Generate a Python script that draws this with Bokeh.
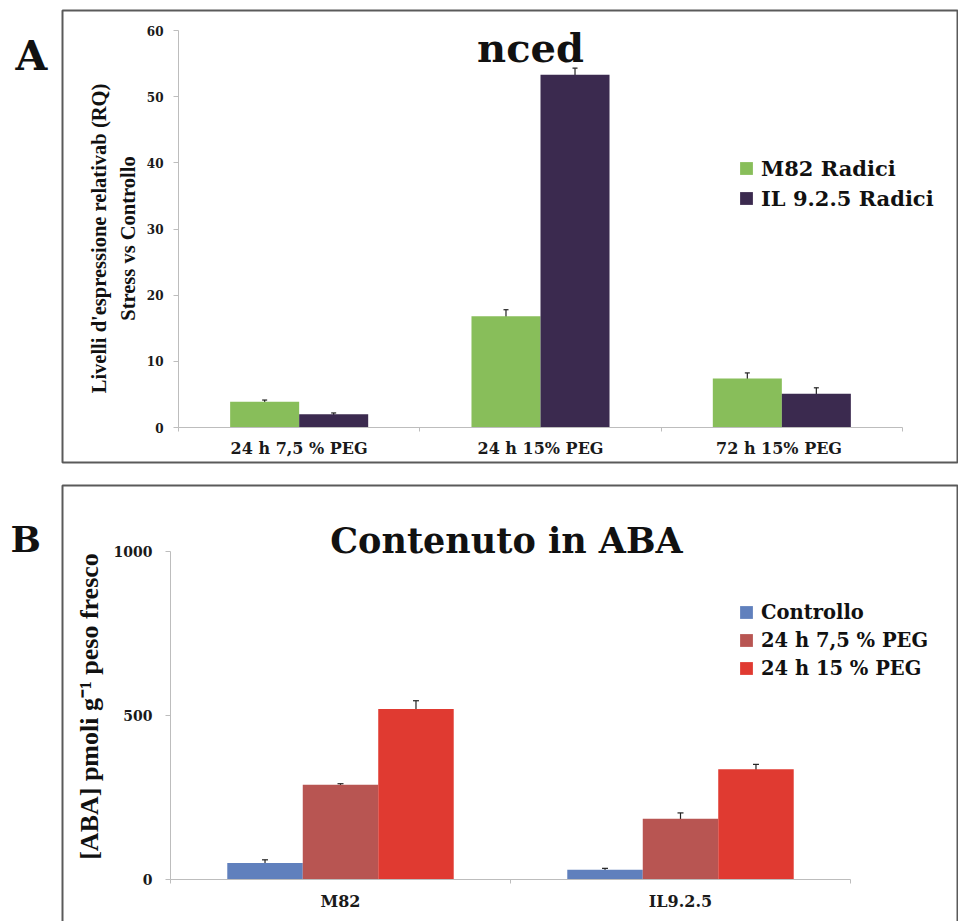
from bokeh.plotting import figure
from bokeh.models import (ColumnDataSource, Range1d, FixedTicker, Whisker, TeeHead,
                          Label, BoxAnnotation, Legend, LegendItem, LinearAxis)
from bokeh.layouts import column
from bokeh.embed import file_html
from bokeh.resources import INLINE
import math

# ---------------- data: panel A (nced) ----------------
cats_A = ["24 h 7,5 % PEG", "24 h 15% PEG", "72 h 15%  PEG"]
series_A = ["M82 Radici", "IL 9.2.5 Radici"]
m82_A = [3.9, 16.8, 7.4]
m82_err_A = [0.25, 1.0, 0.85]
il_A = [2.0, 53.3, 5.1]
il_err_A = [0.2, 1.0, 0.9]
yticks_A = [0, 10, 20, 30, 40, 50, 60]

# ---------------- data: panel B (ABA) ----------------
cats_B = ["M82", "IL9.2.5"]
series_B = ["Controllo", "24 h 7,5 % PEG", "24 h 15 % PEG"]
ctrl_B = [50, 30]
ctrl_err_B = [10, 4]
p75_B = [289, 185]
p75_err_B = [3, 18]
p15_B = [520, 336]
p15_err_B = [25, 15]
yticks_B = [0, 500, 1000]

SERIF = "DejaVu Serif"
SERIF_NARROW = "Liberation Serif"
AXIS_GRAY = "#BDBDBD"
BOX_GRAY = "#5a5a5a"
COL_GREEN = "#88BE5A"
COL_PURPLE = "#3B2A4F"
COL_BLUE = "#6080BD"
COL_BROWN = "#B85552"
COL_RED = "#E03A31"

W = 958


def ranges_for(W, H, x0_px, x1_px, nx, y0_px, y1_px, ymax):
    """Ranges such that the frame (= whole canvas) maps 0..nx to x0_px..x1_px and
    0..ymax to y0_px..y1_px (pixel rows from the top)."""
    kx = (x1_px - x0_px) / nx
    ky = (y0_px - y1_px) / ymax
    xr = Range1d(-x0_px / kx, nx + (W - x1_px) / kx)
    yr = Range1d(-(H - y0_px) / ky, ymax + y1_px / ky)
    return xr, yr


def make_fig(H, xr, yr):
    p = figure(width=W, height=H, output_backend="svg", toolbar_location=None,
               x_range=xr, y_range=yr, x_axis_type=None, y_axis_type=None,
               min_border_left=0, min_border_right=0, min_border_top=0, min_border_bottom=0)
    p.background_fill_color = "white"
    p.border_fill_color = "white"
    p.outline_line_color = None
    p.xgrid.visible = False
    p.ygrid.visible = False
    return p


def add_axes(p, n, centers, cats, yticks, ymax, xfont, yfont, xstand, ystand):
    xa = LinearAxis(fixed_location=0, bounds=(0, n),
                    ticker=FixedTicker(ticks=centers, minor_ticks=list(range(n + 1))))
    xa.major_label_overrides = {c: lab for c, lab in zip(centers, cats)}
    xa.major_tick_out = 0
    xa.major_tick_in = 0
    xa.minor_tick_out = 4
    xa.minor_tick_in = 0
    xa.major_label_standoff = xstand
    xa.major_label_text_font_size = xfont
    ya = LinearAxis(fixed_location=0, bounds=(0, ymax), ticker=FixedTicker(ticks=yticks))
    ya.major_tick_out = 5
    ya.major_tick_in = 0
    ya.minor_tick_out = 0
    ya.minor_tick_in = 0
    ya.major_label_standoff = ystand
    ya.major_label_text_font_size = yfont
    for ax in (xa, ya):
        ax.axis_line_color = AXIS_GRAY
        ax.major_tick_line_color = AXIS_GRAY
        ax.minor_tick_line_color = AXIS_GRAY
        ax.major_label_text_font = SERIF
        ax.major_label_text_font_style = "bold"
        ax.major_label_text_color = "#1a1a1a"
    p.add_layout(xa, "below")
    p.add_layout(ya, "left")


def text(p, x, y, s, size, font=SERIF, align="left", baseline="alphabetic", angle=0.0):
    p.add_layout(Label(x=x, y=y, x_units="screen", y_units="screen", text=s, angle=angle,
                       text_font=font, text_font_style="bold", text_font_size=size,
                       text_color="#111111", text_align=align, text_baseline=baseline))


def whisker(p, s, head):
    p.add_layout(Whisker(base="x", upper="hi", lower="lo", source=s,
                         line_color="#222222", line_width=1.2,
                         upper_head=TeeHead(size=head, line_color="#222222", line_width=1.2),
                         lower_head=TeeHead(size=head, line_color="#222222", line_width=1.2)))


# =============== Panel A ===============
HA = 470
nA = len(cats_A)
wA = 0.286
xrA, yrA = ranges_for(W, HA, 178, 902, nA, 427, 30, 60)
pA = make_fig(HA, xrA, yrA)

centers_A = [i + 0.5 for i in range(nA)]
srcA1 = ColumnDataSource(dict(x=[c - wA / 2 for c in centers_A], top=m82_A,
                              lo=[v - e for v, e in zip(m82_A, m82_err_A)],
                              hi=[v + e for v, e in zip(m82_A, m82_err_A)]))
srcA2 = ColumnDataSource(dict(x=[c + wA / 2 for c in centers_A], top=il_A,
                              lo=[v - e for v, e in zip(il_A, il_err_A)],
                              hi=[v + e for v, e in zip(il_A, il_err_A)]))
rA1 = pA.vbar(x="x", top="top", width=wA, source=srcA1, fill_color=COL_GREEN, line_color=None)
rA2 = pA.vbar(x="x", top="top", width=wA, source=srcA2, fill_color=COL_PURPLE, line_color=None)
for s in (srcA1, srcA2):
    whisker(pA, s, 5)

add_axes(pA, nA, centers_A, cats_A, yticks_A, 60, "16px", "12px", 7, 10)

legA = Legend(items=[LegendItem(label=series_A[0], renderers=[rA1]),
                     LegendItem(label=series_A[1], renderers=[rA2])],
              location=(738, HA - 213), padding=0, margin=0, spacing=0,
              glyph_width=16, glyph_height=16, label_height=30, label_standoff=7,
              label_text_font=SERIF, label_text_font_style="bold", label_text_font_size="21px",
              label_text_color="#111111", border_line_color=None, background_fill_alpha=0)
pA.add_layout(legA)

pA.add_layout(BoxAnnotation(left=62, right=957, top=HA - 10, bottom=HA - 462,
                            left_units="screen", right_units="screen", top_units="screen",
                            bottom_units="screen", fill_color=None, fill_alpha=0,
                            line_color=BOX_GRAY, line_alpha=1.0, line_width=2))
text(pA, 530, HA - 47, "nced", "40px", align="center")
text(pA, 15, HA - 55, "A", "41px")
text(pA, 98, HA - 238, "Livelli d'espressione relativab (RQ)", "20.5px", font=SERIF_NARROW,
     align="center", baseline="middle", angle=math.pi / 2)
text(pA, 127, HA - 238, "Stress vs Controllo", "20.5px", font=SERIF_NARROW,
     align="center", baseline="middle", angle=math.pi / 2)

# =============== Panel B ===============
HB = 451
nB = len(cats_B)
wB = 0.222
xrB, yrB = ranges_for(W, HB, 170, 850, nB, 409, 81, 1000)
pB = make_fig(HB, xrB, yrB)

centers_B = [i + 0.5 for i in range(nB)]
renderers_B = []
for off, vals, errs, col in ((-wB, ctrl_B, ctrl_err_B, COL_BLUE),
                             (0.0, p75_B, p75_err_B, COL_BROWN),
                             (wB, p15_B, p15_err_B, COL_RED)):
    s = ColumnDataSource(dict(x=[c + off for c in centers_B], top=vals,
                              lo=[v - e for v, e in zip(vals, errs)],
                              hi=[v + e for v, e in zip(vals, errs)]))
    r = pB.vbar(x="x", top="top", width=wB, source=s, fill_color=col, line_color=None)
    renderers_B.append(r)
    whisker(pB, s, 6)

add_axes(pB, nB, centers_B, cats_B, yticks_B, 1000, "16px", "14px", 8, 13)

legB = Legend(items=[LegendItem(label=lab, renderers=[r]) for lab, r in zip(series_B, renderers_B)],
              location=(738, HB - 212), padding=0, margin=0, spacing=0,
              glyph_width=16, glyph_height=16, label_height=28, label_standoff=7,
              label_text_font=SERIF, label_text_font_style="bold", label_text_font_size="19.5px",
              label_text_color="#111111", border_line_color=None, background_fill_alpha=0)
pB.add_layout(legB)

pB.add_layout(BoxAnnotation(left=62, right=957, top=HB - 15, bottom=-20,
                            left_units="screen", right_units="screen", top_units="screen",
                            bottom_units="screen", fill_color=None, fill_alpha=0,
                            line_color=BOX_GRAY, line_alpha=1.0, line_width=2))
text(pB, 506, HB - 70, "Contenuto in ABA", "35px", align="center")
text(pB, 10, HB - 68, "B", "36px")
text(pB, 89, HB - 236, "[ABA] pmoli g\u207b\u00b9 peso fresco", "26px", font=SERIF_NARROW,
     align="center", baseline="middle", angle=math.pi / 2)

layout = column(pA, pB, spacing=0)
open("out.html", "w").write(file_html(layout, INLINE))
